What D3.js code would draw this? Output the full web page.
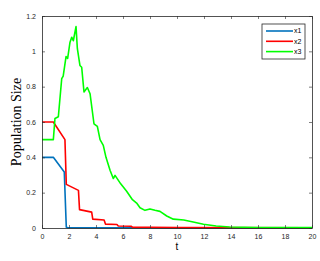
<!DOCTYPE html>
<html lang="en">
<head>
  <meta charset="UTF-8">
  <title>Population Size</title>
  <style>
    body { margin: 0; background: #fff; }
    svg { display: block; }
    .tick-label { font-family: "Liberation Sans", Arial, sans-serif; font-size: 7px; fill: #262626; }
    .series { fill: none; stroke-width: 1.6px; stroke-linejoin: round; }
    .legend-text { font-family: "Liberation Sans", Arial, sans-serif; font-size: 7px; fill: #000; }
  </style>
</head>
<body>
  <svg width="320" height="261"></svg>

  <script src="https://d3js.org/d3.v7.min.js"></script>
  <script>
    // time points and values
    var x1T = [0, 0.84, 1.65, 1.8, 1.9, 20];
    var x1V = [0.4, 0.4, 0.317, 0.004, 0.002, 0];

    var x2T = [0, 0.84, 1.7, 1.8, 2.7, 2.78, 3.68, 3.76, 4.6, 4.7, 5.55, 5.65, 6.6, 6.7, 8, 10, 20];
    var x2V = [0.6, 0.6, 0.5, 0.247, 0.213, 0.104, 0.09, 0.05, 0.045, 0.022, 0.02, 0.011, 0.01, 0.005, 0.004, 0.002, 0.001];

    var x3T = [0, 0.84, 0.96, 1.21, 1.46, 1.57, 1.78, 1.9, 2.07, 2.2, 2.32, 2.52, 2.62, 2.81, 2.94, 3.11, 3.36, 3.56,
               3.85, 4.1, 4.3, 4.54, 4.74, 5.04, 5.28, 5.41, 5.83, 6.27, 6.7, 7.01, 7.26, 7.63, 8.0, 8.37, 8.74, 9.24,
               9.73, 10.5, 11.2, 11.96, 12.9, 13.9, 16, 20];
    var x3V = [0.5, 0.5, 0.62, 0.63, 0.845, 0.86, 0.97, 0.96, 1.05, 1.08, 1.06, 1.14, 1.015, 0.92, 0.91, 0.77, 0.795, 0.76,
               0.59, 0.575, 0.5, 0.468, 0.40, 0.327, 0.28, 0.298, 0.25, 0.208, 0.16, 0.141, 0.115, 0.10, 0.108, 0.10, 0.094, 0.068,
               0.05, 0.045, 0.034, 0.021, 0.011, 0.006, 0.003, 0.002];

    var seriesNames = ["x1", "x2", "x3"];
    var seriesColors = ["#0072BD", "#FF0000", "#00FF00"];
    var xTicks = [0, 2, 4, 6, 8, 10, 12, 14, 16, 18, 20];
    var yTicks = [0, 0.2, 0.4, 0.6, 0.8, 1, 1.2];

    var svg = d3.select("svg");
    var plotLeft = 42, plotRight = 312, plotTop = 16, plotBottom = 228;

    var x = d3.scaleLinear().domain([0, 20]).range([plotLeft, plotRight]);
    var y = d3.scaleLinear().domain([0, 1.2]).range([plotBottom, plotTop]);

    var series = [
      { t: x1T, v: x1V },
      { t: x2T, v: x2V },
      { t: x3T, v: x3V }
    ];

    var line = d3.line()
        .x(function(d) { return x(d[0]); })
        .y(function(d) { return y(d[1]); });

    // lines (drawn first so the box sits on top)
    svg.append("g")
      .selectAll("path")
      .data(series)
      .enter().append("path")
      .attr("class", "series")
      .attr("stroke", function(d, i) { return seriesColors[i]; })
      .attr("d", function(d) { return line(d3.zip(d.t, d.v)); });

    // axes, ticks inward on all four sides
    var tickLen = 3;
    var axisColor = "#262626";

    svg.append("g")
      .attr("transform", "translate(0," + plotBottom + ")")
      .call(d3.axisBottom(x).tickValues(xTicks).tickSizeInner(-tickLen).tickSizeOuter(0).tickPadding(6))
      .call(styleAxis);

    svg.append("g")
      .attr("transform", "translate(0," + plotTop + ")")
      .call(d3.axisTop(x).tickValues(xTicks).tickSizeInner(-tickLen).tickSizeOuter(0).tickFormat(""))
      .call(styleAxis);

    svg.append("g")
      .attr("transform", "translate(" + plotLeft + ",0)")
      .call(d3.axisLeft(y).tickValues(yTicks).tickSizeInner(-tickLen).tickSizeOuter(0).tickPadding(6)
        .tickFormat(function(d) { return d === 0 || d === 1 ? d3.format("d")(d) : d3.format(".1f")(d); }))
      .call(styleAxis);

    svg.append("g")
      .attr("transform", "translate(" + plotRight + ",0)")
      .call(d3.axisRight(y).tickValues(yTicks).tickSizeInner(-tickLen).tickSizeOuter(0).tickFormat(""))
      .call(styleAxis);

    function styleAxis(g) {
      g.select(".domain").attr("stroke", axisColor).attr("stroke-width", 0.8);
      g.selectAll(".tick line").attr("stroke", axisColor).attr("stroke-width", 0.6);
      g.selectAll(".tick text").attr("class", "tick-label").attr("fill", axisColor);
    }

    // axis titles
    svg.append("text")
      .attr("x", (plotLeft + plotRight) / 2)
      .attr("y", 250)
      .attr("text-anchor", "middle")
      .style("font-family", "'Liberation Sans', Arial, sans-serif")
      .style("font-size", "10px")
      .attr("fill", "#000")
      .text("t");

    svg.append("text")
      .attr("transform", "translate(21," + ((plotTop + plotBottom) / 2) + ") rotate(-90)")
      .attr("text-anchor", "middle")
      .style("font-family", "'Liberation Serif', 'Times New Roman', serif")
      .style("font-size", "14px")
      .attr("fill", "#000")
      .text("Population Size");

    // legend
    var legend = svg.append("g").attr("transform", "translate(262,24)");
    legend.append("rect")
      .attr("width", 43).attr("height", 35)
      .attr("fill", "#fff").attr("stroke", "#262626").attr("stroke-width", 0.8);

    var item = legend.selectAll(".item")
      .data(seriesNames)
      .enter().append("g")
      .attr("transform", function(d, i) { return "translate(0," + (7 + i * 10.3) + ")"; });

    item.append("line")
      .attr("x1", 4).attr("x2", 31)
      .attr("stroke", function(d, i) { return seriesColors[i]; })
      .attr("stroke-width", 1.6);

    item.append("text")
      .attr("class", "legend-text")
      .attr("x", 32).attr("dy", "0.35em")
      .text(function(d) { return d; });
  </script>
</body>
</html>
